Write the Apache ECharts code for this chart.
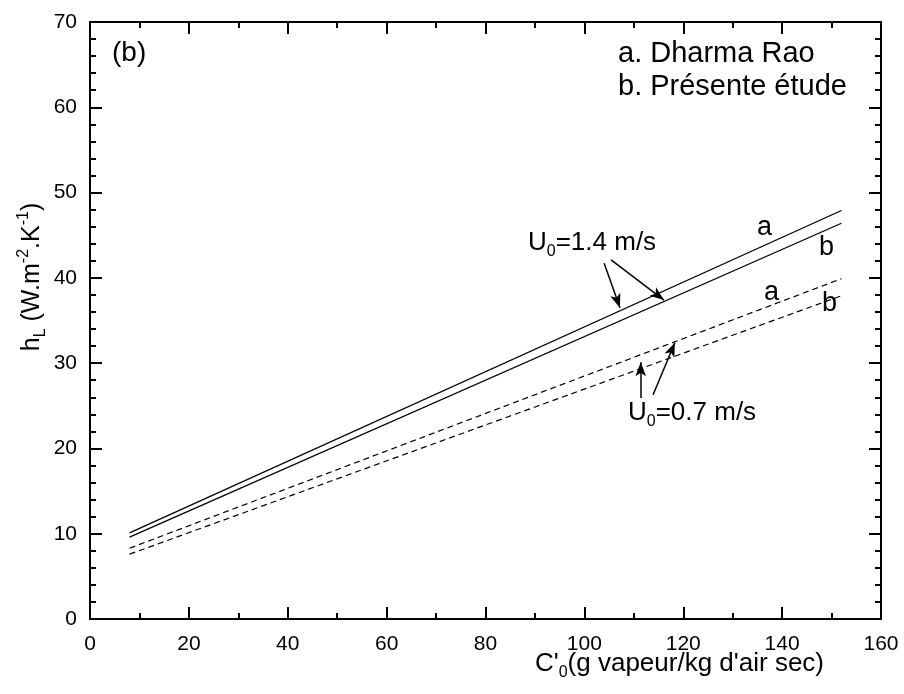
<!DOCTYPE html>
<html>
<head>
<meta charset="utf-8">
<script src="https://cdn.jsdelivr.net/npm/echarts@6/dist/echarts.min.js"></script>
<style>html,body{margin:0;padding:0;background:#fff}#c{width:904px;height:694px}</style>
</head>
<body>
<div id="c"></div>
<script>
// ---- data ----
const xVals = [8, 152];
const solidA = [10.1, 47.9];   // U0=1.4 m/s, a. Dharma Rao
const solidB = [9.6, 46.4];    // U0=1.4 m/s, b. Présente étude
const dashA  = [8.3, 39.9];    // U0=0.7 m/s, a. Dharma Rao
const dashB  = [7.6, 37.9];    // U0=0.7 m/s, b. Présente étude
const xTicks = [0, 20, 40, 60, 80, 100, 120, 140, 160];
const yTicks = [0, 10, 20, 30, 40, 50, 60, 70];
// annotation arrows (data coordinates): [start, end]
const arrowsFast = [[[104.0, 41.7], [107.2, 36.5]], [[105.4, 42.1], [116.1, 37.4]]];
const arrowsSlow = [[[111.4, 25.9], [111.4, 30.1]], [[113.9, 26.3], [118.3, 32.4]]];

const FONT = '"Liberation Sans", Arial, sans-serif';
const chart = echarts.init(document.getElementById('c'), null, {renderer: 'canvas'});

function pairs(xs, ys) { return xs.map((x, i) => [x, ys[i]]); }
function arrowData(list) { return list.map(a => [{coord: a[0]}, {coord: a[1]}]); }

const axisCommon = {
  type: 'value',
  axisLine: {show: true, onZero: false, lineStyle: {color: '#000', width: 2}},
  axisTick: {show: true, inside: true, length: 12, lineStyle: {color: '#000', width: 2}},
  minorTick: {show: true, length: 6, lineStyle: {color: '#000', width: 2}},
  splitLine: {show: false},
  minorSplitLine: {show: false}
};

function richText(size, subSize) {
  return {
    n: {fontSize: size, fontFamily: FONT, fill: '#000', lineHeight: Math.round(size * 1.3)},
    s: {fontSize: subSize, fontFamily: FONT, fill: '#000', verticalAlign: 'bottom', lineHeight: subSize},
    p: {fontSize: subSize, fontFamily: FONT, fill: '#000', verticalAlign: 'top', lineHeight: subSize}
  };
}

const option = {
  animation: false,
  backgroundColor: '#fff',
  grid: {left: 90, right: 23, top: 22, bottom: 75, containLabel: false},
  xAxis: [
    Object.assign({}, axisCommon, {
      position: 'bottom', min: 0, max: 160, interval: 20,
      minorTick: Object.assign({}, axisCommon.minorTick, {splitNumber: 2}),
      axisLabel: {show: true, color: '#000', fontSize: 21, fontFamily: FONT, margin: 15}
    }),
    Object.assign({}, axisCommon, {
      position: 'top', min: 0, max: 160, interval: 20,
      minorTick: Object.assign({}, axisCommon.minorTick, {splitNumber: 2}),
      axisLabel: {show: false}
    })
  ],
  yAxis: [
    Object.assign({}, axisCommon, {
      position: 'left', min: 0, max: 70, interval: 10,
      minorTick: Object.assign({}, axisCommon.minorTick, {splitNumber: 5}),
      axisLabel: {show: true, color: '#000', fontSize: 21, fontFamily: FONT, margin: 13}
    }),
    Object.assign({}, axisCommon, {
      position: 'right', min: 0, max: 70, interval: 10,
      minorTick: Object.assign({}, axisCommon.minorTick, {splitNumber: 5}),
      axisLabel: {show: false}
    })
  ],
  series: [
    {type: 'line', data: pairs(xVals, solidA), symbol: 'none', lineStyle: {color: '#000', width: 1.3}},
    {type: 'line', data: pairs(xVals, solidB), symbol: 'none', lineStyle: {color: '#000', width: 1.3}},
    {type: 'line', data: pairs(xVals, dashA), symbol: 'none', lineStyle: {color: '#000', width: 1.2, type: [6, 4]}},
    {type: 'line', data: pairs(xVals, dashB), symbol: 'none', lineStyle: {color: '#000', width: 1.2, type: [6, 4]}},
    {type: 'line', data: [], markLine: {
      silent: true, symbol: ['none', 'arrow'], symbolSize: [8, 14],
      label: {show: false},
      lineStyle: {color: '#000', width: 1.5, type: 'solid'},
      data: arrowData(arrowsFast.concat(arrowsSlow))
    }}
  ],
  graphic: [
    {type: 'text', left: 112, top: 39, style: {text: '(b)', font: '28px ' + FONT, fill: '#000'}},
    {type: 'text', left: 618, top: 39, style: {text: 'a. Dharma Rao', font: '29px ' + FONT, fill: '#000'}},
    {type: 'text', left: 618, top: 72, style: {text: 'b. Présente étude', font: '29px ' + FONT, fill: '#000'}},
    {type: 'text', x: 757, y: 228, style: {text: 'a', font: '27px ' + FONT, fill: '#000', verticalAlign: 'middle'}},
    {type: 'text', x: 819, y: 248, style: {text: 'b', font: '27px ' + FONT, fill: '#000', verticalAlign: 'middle'}},
    {type: 'text', x: 764, y: 293, style: {text: 'a', font: '27px ' + FONT, fill: '#000', verticalAlign: 'middle'}},
    {type: 'text', x: 822, y: 304, style: {text: 'b', font: '27px ' + FONT, fill: '#000', verticalAlign: 'middle'}},
    {type: 'text', x: 528, y: 243, style: {
      text: '{n|U}{s|0}{n|=1.4 m/s}', verticalAlign: 'middle', rich: richText(26, 16)
    }},
    {type: 'text', x: 628, y: 413, style: {
      text: '{n|U}{s|0}{n|=0.7 m/s}', verticalAlign: 'middle', rich: richText(26, 16)
    }},
    {type: 'text', x: 824, y: 664, style: {
      text: "{n|C'}{s|0}{n|(g vapeur/kg d'air sec)}", align: 'right', verticalAlign: 'middle', rich: richText(26, 16)
    }},
    {type: 'text', x: 32, y: 277, rotation: Math.PI / 2, style: {
      text: '{n|h}{s|L}{n| (W.m}{p|-2}{n|.K}{p|-1}{n|)}', align: 'center', verticalAlign: 'middle',
      rich: richText(25, 16)
    }}
  ]
};
chart.setOption(option);
</script>
</body>
</html>
